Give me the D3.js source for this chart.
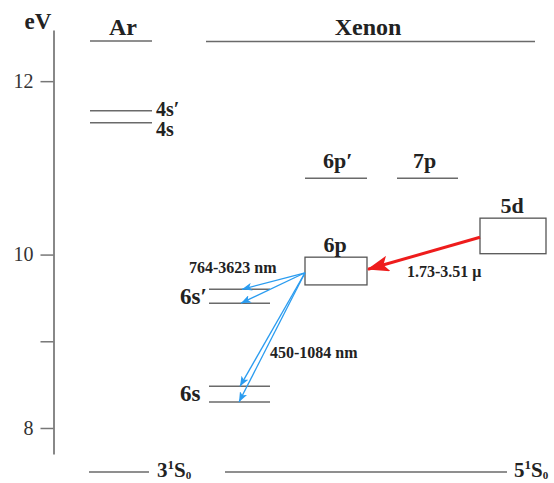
<!DOCTYPE html>
<html><head><meta charset="utf-8">
<script src="https://cdn.jsdelivr.net/npm/d3@7"></script>
<style>body{margin:0;background:#fff}svg{display:block}</style>
</head><body><svg id="c" width="554" height="483"></svg>
<script>
// ---- data ----
const yTicks = [8, 9, 10, 12];
const yTickLabels = ["8", "", "10", "12"];
const columns = ["Ar", "6s", "6p", "7p", "5d"];
const levelCols = ["Ar", "Ar", "6p", "7p", "6s", "6s", "6s", "6s"];
const levelEnergies = [11.66, 11.52, 10.88, 10.88, 9.60, 9.44, 8.48, 8.30];
const levelLabels = ["4s′", "4s", "6p′", "7p", "", "6s′", "", "6s"];
const boxCols = ["6p", "5d"];
const boxLow = [9.65, 10.01];
const boxHigh = [9.97, 10.42];
const boxLabels = ["6p", "5d"];
const blueFrom = 9.79;
const blueTargets = [9.60, 9.44, 8.48, 8.30];
const redFrom = 10.20;
const redTo = 9.83;
const annotations = ["764-3623 nm", "450-1084 nm", "1.73-3.51 μ"];

// ---- layout ----
const svg = d3.select("#c");
const FONT = "'Liberation Serif','Times New Roman',serif";
const y = d3.scaleLinear().domain([7.7, 12.59]).range([454, 30]);
const colX = d3.scaleOrdinal(columns, [90, 209, 305, 397, 480]);
const colW = d3.scaleOrdinal(columns, [62, 61, 62, 61, 66]);
const grey = "#6a6a6a";

// axis
const axis = d3.axisLeft(y).tickValues(yTicks)
  .tickFormat((d, i) => yTickLabels[i]).tickSize(13).tickSizeOuter(0).tickPadding(7);
const ax = svg.append("g").attr("transform", "translate(53.5,0)").call(axis);
ax.select(".domain").attr("stroke", "#888").attr("stroke-width", 2);
ax.selectAll(".tick line").attr("stroke", "#777").attr("stroke-width", 1.5);
ax.selectAll(".tick text").attr("font-family", FONT).attr("font-size", 20).attr("fill", "#333");

const txt = (x, yy, s, size, anchor, weight) => svg.append("text")
  .attr("x", x).attr("y", yy).attr("font-family", FONT).attr("font-size", size)
  .attr("font-weight", weight || "bold").attr("fill", "#222")
  .attr("text-anchor", anchor || "start").text(s);

// header
txt(38, 29, "eV", 23, "middle");
txt(123, 35, "Ar", 24, "middle");
txt(368, 35, "Xenon", 24, "middle");
svg.append("line").attr("x1", 90).attr("x2", 152).attr("y1", 41).attr("y2", 41)
  .attr("stroke", grey).attr("stroke-width", 1.5);
svg.append("line").attr("x1", 206).attr("x2", 535).attr("y1", 41.5).attr("y2", 41.5)
  .attr("stroke", grey).attr("stroke-width", 1.5);

// levels
levelEnergies.forEach((e, i) => {
  const c = levelCols[i];
  svg.append("line").attr("x1", colX(c)).attr("x2", colX(c) + colW(c))
    .attr("y1", y(e)).attr("y2", y(e)).attr("stroke", grey).attr("stroke-width", 1.5);
});
// level labels
txt(colX("Ar") + colW("Ar") + 4, y(levelEnergies[0]) + 5, levelLabels[0], 20);
txt(colX("Ar") + colW("Ar") + 4, y(levelEnergies[1]) + 13, levelLabels[1], 20);
txt(colX("6p") + 18, y(levelEnergies[2]) - 10, levelLabels[2], 22);
txt(colX("7p") + 16, y(levelEnergies[3]) - 10, levelLabels[3], 22);
txt(colX("6s") - 29, y(levelEnergies[5]) + 1, levelLabels[5], 23);
txt(colX("6s") - 29, y(levelEnergies[7]) - 1, levelLabels[7], 23);

// boxes
boxCols.forEach((c, i) => {
  svg.append("rect").attr("x", colX(c)).attr("y", y(boxHigh[i]))
    .attr("width", colW(c)).attr("height", y(boxLow[i]) - y(boxHigh[i]))
    .attr("fill", "#fff").attr("stroke", "#555").attr("stroke-width", 1.3);
  txt(colX(c) + colW(c) / 2 - 1, y(boxHigh[i]) - 5, boxLabels[i], 22, "middle");
});

// arrow markers
const defs = svg.append("defs");
defs.append("marker").attr("id", "bh").attr("markerUnits", "userSpaceOnUse")
  .attr("viewBox", "0 0 10 8").attr("refX", 10).attr("refY", 4)
  .attr("markerWidth", 10).attr("markerHeight", 8).attr("orient", "auto")
  .append("path").attr("d", "M0,0L10,4L0,8L2.5,4Z").attr("fill", "#2a9cf0");
defs.append("marker").attr("id", "rh").attr("markerUnits", "userSpaceOnUse")
  .attr("viewBox", "0 0 22 16").attr("refX", 21).attr("refY", 8)
  .attr("markerWidth", 22).attr("markerHeight", 16).attr("orient", "auto")
  .append("path").attr("d", "M0,0L22,8L0,16L5,8Z").attr("fill", "#ee1c1c");

// blue transitions
blueTargets.forEach((e, i) => {
  svg.append("line").attr("x1", colX("6p")).attr("y1", y(blueFrom))
    .attr("x2", colX("6s") + 33 - (i * 1)).attr("y2", y(e))
    .attr("stroke", "#2a9cf0").attr("stroke-width", 1.3).attr("marker-end", "url(#bh)");
});
// red transition
svg.append("line").attr("x1", colX("5d")).attr("y1", y(redFrom))
  .attr("x2", colX("6p") + colW("6p") + 1).attr("y2", y(redTo))
  .attr("stroke", "#ee1c1c").attr("stroke-width", 3).attr("marker-end", "url(#rh)");

// annotations
txt(189, 273, annotations[0], 16);
txt(270, 358, annotations[1], 16);
txt(407, 277, annotations[2], 16);

// ground states
svg.append("line").attr("x1", 89).attr("x2", 149).attr("y1", 472).attr("y2", 472)
  .attr("stroke", grey).attr("stroke-width", 1.5);
svg.append("line").attr("x1", 225).attr("x2", 507).attr("y1", 472).attr("y2", 472)
  .attr("stroke", grey).attr("stroke-width", 1.5);
function ground(x, n) {
  const t = txt(x, 477, "", 21);
  t.append("tspan").text(n);
  t.append("tspan").attr("font-size", 13).attr("dy", -8).text("1");
  t.append("tspan").attr("dy", 8).text("S");
  t.append("tspan").attr("font-size", 11).attr("dy", 2).text("0");
}
ground(157, "3");
ground(514, "5");
</script></body></html>
